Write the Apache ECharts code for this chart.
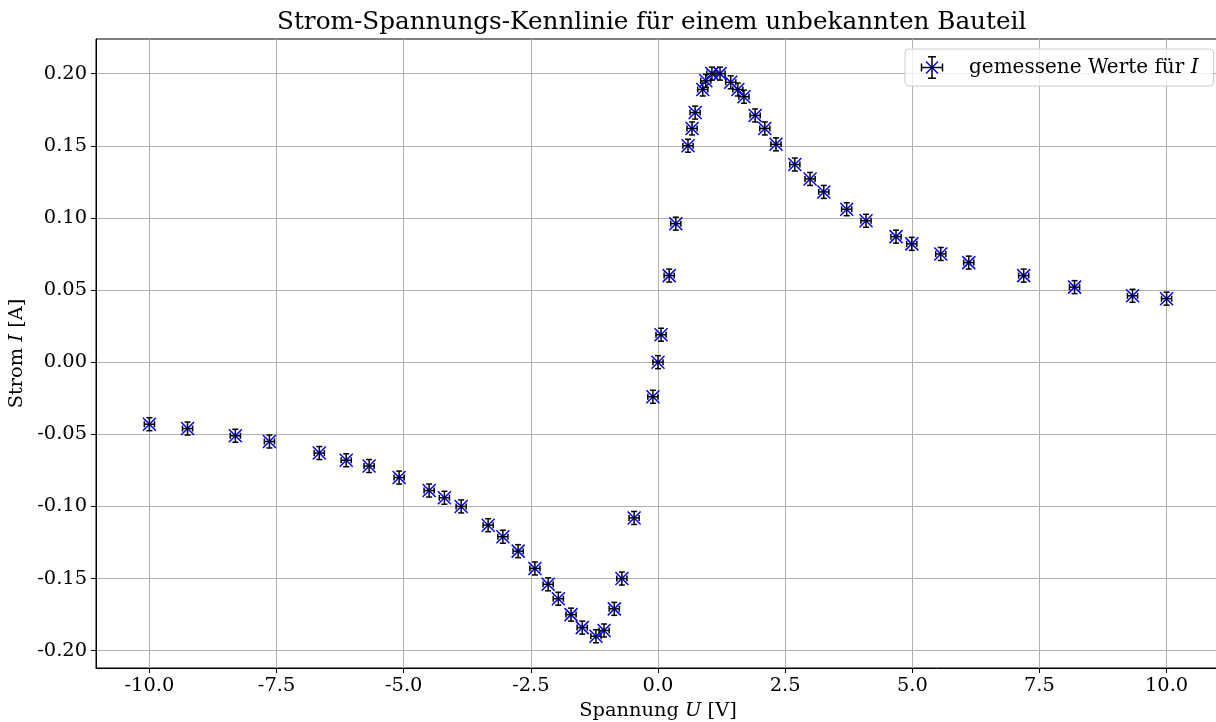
<!DOCTYPE html>
<html lang="de">
<head>
  <meta charset="UTF-8">
  <title>Kennlinie</title>
  <script src="https://cdn.jsdelivr.net/npm/echarts@6/dist/echarts.min.js"></script>
  <style>
    html, body { margin: 0; padding: 0; background: #fff; }
  </style>
</head>
<body>
<div id="main" style="width:1216px;height:722px;"></div>
<script>
  // Messwerte: Spannung U [V] und Strom I [A]
  var spannung = [-10.0, -9.25, -8.31, -7.64, -6.66, -6.13, -5.68, -5.09, -4.50, -4.20,
    -3.87, -3.34, -3.05, -2.75, -2.42, -2.16, -1.96, -1.71, -1.49, -1.22,
    -1.06, -0.86, -0.71, -0.47, -0.10, 0.0, 0.06, 0.22, 0.35, 0.59,
    0.67, 0.73, 0.88, 0.94, 1.06, 1.22, 1.43, 1.57, 1.69, 1.91,
    2.10, 2.32, 2.69, 2.99, 3.26, 3.71, 4.09, 4.68, 4.99, 5.56,
    6.11, 7.19, 8.19, 9.33, 10.0];
  var strom = [-0.043, -0.046, -0.051, -0.055, -0.063, -0.068, -0.072, -0.080, -0.089, -0.094,
    -0.100, -0.113, -0.121, -0.131, -0.143, -0.154, -0.164, -0.175, -0.184, -0.190,
    -0.186, -0.171, -0.150, -0.108, -0.024, 0.000, 0.019, 0.060, 0.096, 0.150,
    0.162, 0.173, 0.189, 0.195, 0.200, 0.200, 0.194, 0.189, 0.184, 0.171,
    0.162, 0.151, 0.137, 0.127, 0.118, 0.106, 0.098, 0.087, 0.082, 0.075,
    0.069, 0.060, 0.052, 0.046, 0.044];
  // Unsicherheiten
  var fehlerU = 0.1;
  var fehlerI = 0.0045;
  var xTicks = [-10, -7.5, -5, -2.5, 0, 2.5, 5, 7.5, 10];
  var yTicks = [-0.2, -0.15, -0.1, -0.05, 0, 0.05, 0.1, 0.15, 0.2];

  var messwerte = spannung.map(function (u, i) { return [u, strom[i]]; });

  var schrift = 'DejaVu Serif';
  // Legendensymbol: Fehlerbalken + blaues Kreuz
  var legendIcon = 'image://data:image/svg+xml;utf8,' + encodeURIComponent(
    '<svg xmlns="http://www.w3.org/2000/svg" width="49" height="23">' +
    '<g stroke="#0000ff" stroke-width="1.5"><line x1="11" y1="5.5" x2="23" y2="17.5"/><line x1="23" y1="5.5" x2="11" y2="17.5"/></g>' +
    '<g stroke="#000" stroke-width="1.5"><line x1="6.5" y1="11.5" x2="27.5" y2="11.5"/><line x1="17" y1="0.8" x2="17" y2="22.2"/>' +
    '<line x1="6.5" y1="7.5" x2="6.5" y2="15.5"/><line x1="27.5" y1="7.5" x2="27.5" y2="15.5"/>' +
    '<line x1="13" y1="0.8" x2="21" y2="0.8"/><line x1="13" y1="22.2" x2="21" y2="22.2"/></g></svg>');

  var myChart = echarts.init(document.getElementById('main'));

  function renderPunkt(params, api) {
    var u = api.value(0);
    var i = api.value(1);
    var p = api.coord([u, i]);
    var links = api.coord([u - fehlerU, i]);
    var rechts = api.coord([u + fehlerU, i]);
    var oben = api.coord([u, i + fehlerI]);
    var unten = api.coord([u, i - fehlerI]);
    var cap = 3;
    var m = 6.5;
    var blau = { stroke: '#0000ff', lineWidth: 1.5 };
    var schwarz = { stroke: '#000', lineWidth: 1.5 };
    function linie(x1, y1, x2, y2, st) {
      return { type: 'line', shape: { x1: x1, y1: y1, x2: x2, y2: y2 }, style: st };
    }
    return {
      type: 'group',
      children: [
        linie(p[0] - m, p[1] - m, p[0] + m, p[1] + m, blau),
        linie(p[0] - m, p[1] + m, p[0] + m, p[1] - m, blau),
        linie(links[0], p[1], rechts[0], p[1], schwarz),
        linie(links[0], p[1] - cap, links[0], p[1] + cap, schwarz),
        linie(rechts[0], p[1] - cap, rechts[0], p[1] + cap, schwarz),
        linie(p[0], oben[1], p[0], unten[1], schwarz),
        linie(p[0] - cap, oben[1], p[0] + cap, oben[1], schwarz),
        linie(p[0] - cap, unten[1], p[0] + cap, unten[1], schwarz)
      ]
    };
  }

  var option = {
    animation: false,
    backgroundColor: '#fff',
    textStyle: { fontFamily: schrift },
    title: {
      text: 'Strom-Spannungs-Kennlinie für einem unbekannten Bauteil',
      left: 277,
      top: 10,
      padding: 0,
      textStyle: { fontFamily: schrift, fontSize: 24.7, fontWeight: 'normal', color: '#000' }
    },
    legend: {
      left: 905,
      top: 49,
      padding: [7, 15, 7, 10],
      itemWidth: 49,
      itemHeight: 23,
      borderColor: '#cccccc',
      borderWidth: 1,
      borderRadius: 4,
      backgroundColor: 'rgba(255,255,255,0.8)',
      data: [{ name: 'gemessene Werte für I', icon: legendIcon }],
      formatter: function () { return 'gemessene Werte für {i|I}'; },
      textStyle: {
        fontFamily: schrift, fontSize: 20, color: '#000',
        rich: { i: { fontFamily: schrift, fontStyle: 'italic', fontSize: 20, color: '#000' } }
      }
    },
    grid: {
      left: 96, right: -4, top: 39, bottom: 54,
      outerBoundsMode: 'none',
      containLabel: false,
      show: true, borderColor: '#000', borderWidth: 1, backgroundColor: 'transparent'
    },
    xAxis: {
      type: 'value',
      min: -11.05,
      max: 11.05,
      name: 'Spannung {i|U} [V]',
      nameLocation: 'middle',
      nameGap: 33,
      nameTextStyle: {
        fontFamily: schrift, fontSize: 19.4, color: '#000',
        rich: { i: { fontFamily: schrift, fontStyle: 'italic', fontSize: 19.4, color: '#000' } }
      },
      axisLine: { onZero: false, lineStyle: { color: '#000', width: 1 } },
      axisTick: { show: true, length: 5, inside: false, customValues: xTicks, lineStyle: { color: '#000' } },
      axisLabel: {
        customValues: xTicks,
        margin: 8,
        fontFamily: schrift, fontSize: 19.4, color: '#000',
        formatter: function (v) { return v.toFixed(1); }
      },
      splitLine: { show: true, lineStyle: { color: '#b0b0b0', width: 1 } }
    },
    yAxis: {
      type: 'value',
      min: -0.212,
      max: 0.224,
      name: 'Strom {i|I} [A]',
      nameLocation: 'middle',
      nameGap: 62,
      nameRotate: 90,
      nameTextStyle: {
        fontFamily: schrift, fontSize: 19.4, color: '#000',
        rich: { i: { fontFamily: schrift, fontStyle: 'italic', fontSize: 19.4, color: '#000' } }
      },
      axisLine: { show: true, onZero: false, lineStyle: { color: '#000', width: 1 } },
      axisTick: { show: true, length: 5, inside: false, customValues: yTicks, lineStyle: { color: '#000' } },
      axisLabel: {
        customValues: yTicks,
        margin: 9,
        fontFamily: schrift, fontSize: 19.4, color: '#000',
        formatter: function (v) { return v.toFixed(2); }
      },
      splitLine: { show: true, lineStyle: { color: '#b0b0b0', width: 1 } }
    },
    series: [{
      name: 'gemessene Werte für I',
      type: 'custom',
      renderItem: renderPunkt,
      encode: { x: 0, y: 1 },
      data: messwerte,
      clip: false,
      z: 3
    }]
  };

  myChart.setOption(option);
</script>
</body>
</html>
